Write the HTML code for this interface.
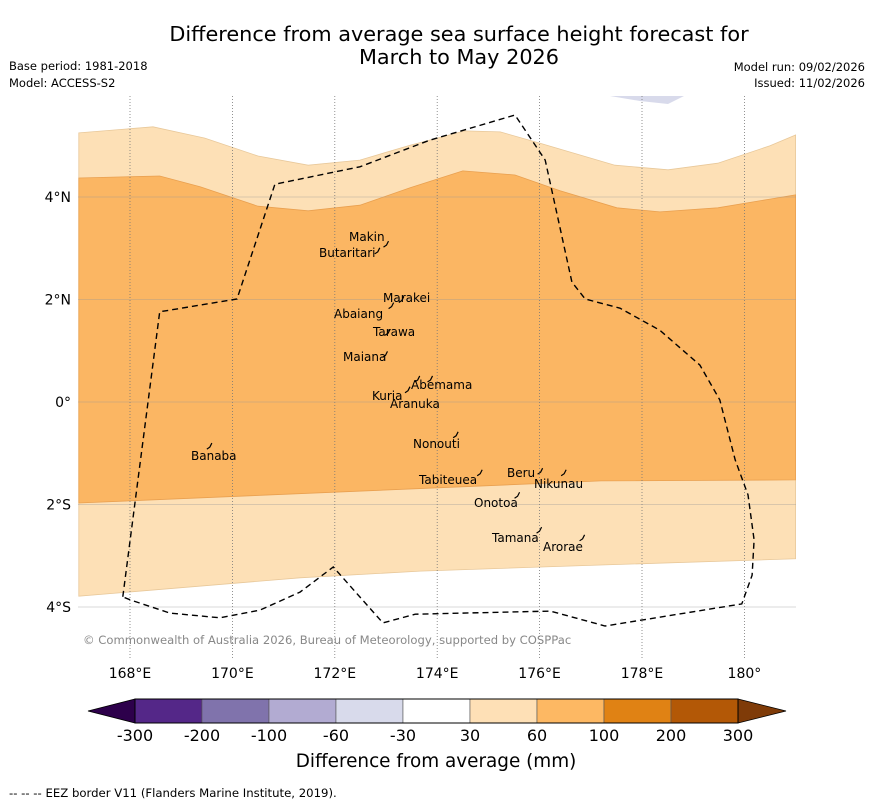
<!DOCTYPE html>
<html><head><meta charset="utf-8"><style>
body{margin:0;background:#fff;font-family:"DejaVu Sans","Liberation Sans",sans-serif;}
svg text{font-family:"DejaVu Sans","Liberation Sans",sans-serif;}
</style></head><body>
<svg id="chart" width="873" height="804" xmlns="http://www.w3.org/2000/svg">
<text x="459" y="41" font-size="20.8" text-anchor="middle">Difference from average sea surface height forecast for</text>
<text x="459" y="64" font-size="20.8" text-anchor="middle">March to May 2026</text>
<text x="9" y="70" font-size="11.5">Base period: 1981-2018</text>
<text x="9" y="87" font-size="11.5">Model: ACCESS-S2</text>
<text x="865" y="71" font-size="11.5" text-anchor="end">Model run: 09/02/2026</text>
<text x="865" y="87" font-size="11.5" text-anchor="end">Issued: 11/02/2026</text>
<defs><clipPath id="mapclip"><rect x="78" y="96" width="718" height="563"/></clipPath></defs>
<g id="map" clip-path="url(#mapclip)"></g>
<g id="axes"></g>
<g id="cbar"></g>
<text x="436" y="767" font-size="18.4" text-anchor="middle">Difference from average (mm)</text>
<text x="9" y="797" font-size="11.7">--  --  -- EEZ border V11 (Flanders Marine Institute, 2019).</text>
</svg>
<script>
const lonTicks=[168,170,172,174,176,178,180];
const lonLabels=["168°E","170°E","172°E","174°E","176°E","178°E","180°"];
const latTicks=[4,2,0,-2,-4];
const latLabels=["4°N","2°N","0°","2°S","4°S"];
const light30Top=[[167,5.25],[168.45,5.37],[169.46,5.15],[170.5,4.8],[171.48,4.62],[172.49,4.72],[173.47,5.01],[174.54,5.29],[175.23,5.27],[176.01,5.05],[177.47,4.62],[178.51,4.53],[179.48,4.66],[180.5,5.0],[181,5.21]];
const orange60Top=[[167,4.37],[168.58,4.41],[169.37,4.2],[170.5,3.82],[171.48,3.73],[172.49,3.84],[173.47,4.18],[174.5,4.51],[175.52,4.43],[176.4,4.12],[177.51,3.79],[178.35,3.71],[179.48,3.79],[180.5,3.96],[181,4.04]];
const orange60Bot=[[167,-1.97],[177.2,-1.54],[181,-1.52]];
const light30Bot=[[167,-3.79],[171.32,-3.43],[173.67,-3.3],[177.2,-3.18],[181,-3.06]];
const eez=[[167.86,-3.8],[168.58,1.76],[170.09,2.01],[170.83,4.25],[172.49,4.59],[173.86,5.11],[175.52,5.6],[176.11,4.72],[176.63,2.34],[176.89,2.01],[177.57,1.83],[178.35,1.4],[179.13,0.72],[179.52,0.04],[179.82,-1.13],[180.07,-1.81],[180.19,-2.69],[180.15,-3.38],[179.95,-3.94],[177.28,-4.37],[176.21,-4.08],[173.57,-4.14],[172.94,-4.31],[171.97,-3.22],[171.32,-3.71],[170.54,-4.06],[169.76,-4.21],[168.78,-4.12],[168,-3.86]];
const islandNames=["Makin","Butaritari","Marakei","Abaiang","Tarawa","Maiana","Abemama","Kuria","Aranuka","Nonouti","Banaba","Beru","Nikunau","Tabiteuea","Onotoa","Tamana","Arorae"];
const islandLon=[172.99,172.82,173.29,173.09,173.02,172.97,173.85,173.41,173.6,174.35,169.54,176.0,176.46,174.82,175.55,175.98,176.82];
const islandLat=[3.08,2.95,2.0,1.88,1.36,0.93,0.45,0.24,0.45,-0.64,-0.86,-1.35,-1.38,-1.38,-1.82,-2.5,-2.65];
const labelPx=[[349,241],[319,257],[383,302],[334,318],[373,336],[343,361],[411,389],[372,400],[390,408],[413,448],[191,460],[507,477],[534,488],[419,484],[474,507],[492,542],[543,551]];
const cbarColors=["#542788","#8073ac","#b2abd2","#d8daeb","#ffffff","#fee0b6","#fdb863","#e08214","#b35806"];
const cbarLabels=["-300","-200","-100","-60","-30","30","60","100","200","300"];
const NS="http://www.w3.org/2000/svg";
const X=lon=>78.8+(lon-167)*51.2;
const Y=lat=>402-lat*51.25;
function mk(tag,attrs,parent){const e=document.createElementNS(NS,tag);for(const k in attrs)e.setAttribute(k,attrs[k]);parent.appendChild(e);return e;}
const pts=a=>a.map(p=>X(p[0]).toFixed(1)+","+Y(p[1]).toFixed(1)).join(" ");
const map=document.getElementById("map"),axes=document.getElementById("axes"),cb=document.getElementById("cbar");
let lb=mk("polygon",{points:pts(light30Top.concat(light30Bot.slice().reverse())),fill:"#fde0b6",stroke:"#e8c89a","stroke-width":"0.8"},map);


let ob=mk("polygon",{points:pts(orange60Top.concat(orange60Bot.slice().reverse())),fill:"#fbb663",stroke:"#e9a050","stroke-width":"0.8"},map);


let pb=mk("polygon",{points:"610,96 684,96 668,104 640,101",fill:"#d8daeb"},map);


lonTicks.forEach((v,i)=>{
 let l=mk("line",{x1:X(v),x2:X(v),y1:96,y2:659,stroke:"#777","stroke-width":"0.8","stroke-dasharray":"1,2"},map);
 
 
 let t=mk("text",{x:X(v),y:678,"font-size":"14","text-anchor":"middle"},axes);t.textContent=lonLabels[i];
 
 
});
latTicks.forEach((v,i)=>{
 let l=mk("line",{x1:78,x2:796,y1:Y(v),y2:Y(v),stroke:"#999","stroke-width":"0.6","stroke-opacity":"0.7"},map);
 
 
 let t=mk("text",{x:71,y:Y(v)+5,"font-size":"14","text-anchor":"end"},axes);t.textContent=latLabels[i];
 
 
});
let ez=mk("polygon",{points:pts(eez),fill:"none",stroke:"#000","stroke-width":"1.4","stroke-dasharray":"6,4"},map);


islandNames.forEach((n,i)=>{
 let d=mk("path",{d:`M${X(islandLon[i])-2},${Y(islandLat[i])+3} l3,-2 l2,-4`,stroke:"#000","stroke-width":"1.2",fill:"none"},map);
 
 
 let t=mk("text",{x:labelPx[i][0],y:labelPx[i][1],"font-size":"12"},map);t.textContent=n;
 
 
});
let cr=mk("text",{x:83,y:644,"font-size":"11.6",fill:"#888"},map);cr.textContent="© Commonwealth of Australia 2026, Bureau of Meteorology, supported by COSPPac";


const cx0=135,cw=603/cbarColors.length,cy=699,ch=24;
let tl=mk("polygon",{points:`${cx0},${cy} ${cx0},${cy+ch} 88,${cy+ch/2}`,fill:"#2d004b",stroke:"#000","stroke-width":"0.8"},cb);


let tr=mk("polygon",{points:`${cx0+603},${cy} ${cx0+603},${cy+ch} 786,${cy+ch/2}`,fill:"#7f3b08",stroke:"#000","stroke-width":"0.8"},cb);


cbarColors.forEach((c,i)=>{
 let r=mk("rect",{x:cx0+i*cw,y:cy,width:cw,height:ch,fill:c,stroke:"#555","stroke-width":"0.6"},cb);
 
 
});
let ob2=mk("rect",{x:cx0,y:cy,width:603,height:ch,fill:"none",stroke:"#000","stroke-width":"1"},cb);


cbarLabels.forEach((s,i)=>{
 let t=mk("text",{x:cx0+i*cw,y:741,"font-size":"16","text-anchor":"middle"},cb);t.textContent=s;
 
 
});
</script>
</body></html>
